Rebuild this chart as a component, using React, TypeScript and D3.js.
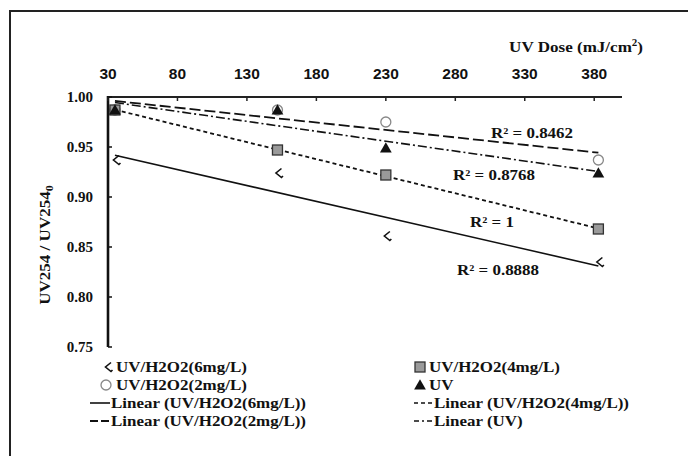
import React from "react";
import * as d3 from "d3";

const doses = [35, 152, 230, 383];
const h6 = [0.937, 0.924, 0.861, 0.835];
const h4 = [0.987, 0.947, 0.922, 0.868];
const h2 = [0.987, 0.987, 0.975, 0.937];
const uv = [0.987, 0.987, 0.949, 0.924];
const xTicks = [30, 80, 130, 180, 230, 280, 330, 380];
const yTicks = [0.75, 0.8, 0.85, 0.9, 0.95, 1.0];
const r2Labels = ["R² = 0.8888", "R² = 1", "R² = 0.8462", "R² = 0.8768"];

const W = 688, H = 456;
const x = d3.scaleLinear().domain([30, 400]).range([108, 622]);
const y = d3.scaleLinear().domain([0.75, 1.0]).range([347, 97]);

function fit(xs: number[], ys: number[]) {
  const mx = d3.mean(xs)!, my = d3.mean(ys)!;
  let sxy = 0, sxx = 0;
  xs.forEach((v, i) => { sxy += (v - mx) * (ys[i] - my); sxx += (v - mx) ** 2; });
  const b = sxy / sxx;
  const a = my - b * mx;
  return (v: number) => a + b * v;
}

const serif = "'Liberation Serif', 'Times New Roman', serif";
const sans = "'Liberation Sans', Arial, sans-serif";

const line = d3.line<[number, number]>().x(d => x(d[0])).y(d => y(d[1]));

function trend(ys: number[]) {
  const f = fit(doses, ys);
  const x0 = doses[0], x1 = doses[doses.length - 1];
  return line([[x0, f(x0)], [x1, f(x1)]]) as string;
}

const chevron = "M4,-4.5 L-1.5,0 L4,4.5 L5.5,3";

function Diamond({ cx, cy }: { cx: number; cy: number }) {
  return <path d={chevron} transform={`translate(${cx},${cy})`} fill="none" stroke="#111" strokeWidth={1.6} />;
}
function Square({ cx, cy }: { cx: number; cy: number }) {
  return <rect x={cx - 5} y={cy - 5} width={10} height={10} fill="#9a9a9a" stroke="#333" strokeWidth={1.3} />;
}
function Circle({ cx, cy }: { cx: number; cy: number }) {
  return <circle cx={cx} cy={cy} r={5} fill="white" stroke="#888" strokeWidth={1.3} />;
}
function Tri({ cx, cy }: { cx: number; cy: number }) {
  const p = d3.symbol(d3.symbolTriangle, 60)() as string;
  return <path d={p} transform={`translate(${cx},${cy + 1})`} fill="#111" />;
}

const styles = {
  h6: { dash: "none", w: 1.6 },
  h4: { dash: "4,3", w: 1.8 },
  h2: { dash: "11,4", w: 1.8 },
  uv: { dash: "9,3,2,3", w: 1.6 },
};

function WideText({ x: tx, y: ty, anchor = "start", children }: { x: number; y: number; anchor?: string; children: React.ReactNode }) {
  return (
    <g transform={`translate(${tx},${ty}) scale(1.13,1)`}>
      <text x={0} y={0} textAnchor={anchor} fontFamily={serif} fontWeight={700} fontSize={15} fill="#111">{children}</text>
    </g>
  );
}

export default function App() {
  const rows = [367, 385, 403, 421];
  return (
    <div style={{ position: "absolute", left: 0, top: 0 }}>
      <svg width={W} height={H} style={{ display: "block", background: "white" }}>
        <rect x={10} y={11} width={700} height={460} fill="none" stroke="#222" strokeWidth={2} />

        {/* trend lines */}
        <path d={trend(h6)} stroke="#111" strokeWidth={styles.h6.w} fill="none" />
        <path d={trend(h4)} stroke="#111" strokeWidth={styles.h4.w} strokeDasharray={styles.h4.dash} fill="none" />
        <path d={trend(h2)} stroke="#111" strokeWidth={styles.h2.w} strokeDasharray={styles.h2.dash} fill="none" />
        <path d={trend(uv)} stroke="#111" strokeWidth={styles.uv.w} strokeDasharray={styles.uv.dash} fill="none" />

        {/* markers */}
        {doses.map((d, i) => <Circle key={"c" + i} cx={x(d)} cy={y(h2[i])} />)}
        {doses.map((d, i) => <Square key={"s" + i} cx={x(d)} cy={y(h4[i])} />)}
        {doses.map((d, i) => <Tri key={"t" + i} cx={x(d)} cy={y(uv[i])} />)}
        {doses.map((d, i) => <Diamond key={"d" + i} cx={x(d)} cy={y(h6[i])} />)}

        {/* axes */}
        <line x1={x(30)} x2={x(400)} y1={y(1)} y2={y(1)} stroke="#222" strokeWidth={2.2} />
        <line x1={x(30)} x2={x(30)} y1={y(1) - 1} y2={y(0.75)} stroke="#111" strokeWidth={2.6} />
        {xTicks.map(t => (
          <g key={"xt" + t}>
            <line x1={x(t)} x2={x(t)} y1={y(1)} y2={y(1) + 4} stroke="#222" strokeWidth={1.5} />
            <text x={x(t)} y={79} textAnchor="middle" fontFamily={sans} fontWeight={700} fontSize={15.5} fill="#111">{t}</text>
          </g>
        ))}
        {yTicks.map(t => (
          <g key={"yt" + t}>
            <line x1={x(30)} x2={x(30) + 4} y1={y(t)} y2={y(t)} stroke="#111" strokeWidth={1.5} />
            <text x={93} y={y(t) + 5} textAnchor="end" fontFamily={serif} fontWeight={700} fontSize={15} fill="#111">{d3.format(".2f")(t)}</text>
          </g>
        ))}
        <g transform="translate(643,52) scale(1.1,1)">
          <text x={0} y={0} textAnchor="end" fontFamily={serif} fontWeight={700} fontSize={15.5} fill="#111">
            UV Dose (mJ/cm<tspan fontSize={10} dy={-6}>2</tspan><tspan dy={6}>)</tspan>
          </text>
        </g>
        <text transform="translate(50,245) rotate(-90) scale(1.1,1)" textAnchor="middle" fontFamily={serif} fontWeight={700} fontSize={15.5} fill="#111">
          UV254 / UV254<tspan fontSize={11} dy={3}>0</tspan>
        </text>

        {/* R2 labels */}
        <WideText x={532} y={138} anchor="middle">{r2Labels[2]}</WideText>
        <WideText x={494} y={180} anchor="middle">{r2Labels[3]}</WideText>
        <WideText x={492} y={227} anchor="middle">{r2Labels[1]}</WideText>
        <WideText x={498} y={275} anchor="middle">{r2Labels[0]}</WideText>

        {/* legend */}
        <Diamond cx={107} cy={rows[0]} />
        <WideText x={116} y={rows[0] + 5}>UV/H2O2(6mg/L)</WideText>
        <Circle cx={106} cy={rows[1]} />
        <WideText x={116} y={rows[1] + 5}>UV/H2O2(2mg/L)</WideText>
        <line x1={90} x2={110} y1={rows[2]} y2={rows[2]} stroke="#111" strokeWidth={1.6} />
        <WideText x={111} y={rows[2] + 5}>Linear (UV/H2O2(6mg/L))</WideText>
        <line x1={90} x2={110} y1={rows[3]} y2={rows[3]} stroke="#111" strokeWidth={1.8} strokeDasharray="8,3" />
        <WideText x={111} y={rows[3] + 5}>Linear (UV/H2O2(2mg/L))</WideText>

        <Square cx={420} cy={rows[0]} />
        <WideText x={429} y={rows[0] + 5}>UV/H2O2(4mg/L)</WideText>
        <Tri cx={420} cy={rows[1]} />
        <WideText x={429} y={rows[1] + 5}>UV</WideText>
        <line x1={414} x2={433} y1={rows[2]} y2={rows[2]} stroke="#111" strokeWidth={1.6} strokeDasharray="4,3" />
        <WideText x={434} y={rows[2] + 5}>Linear (UV/H2O2(4mg/L))</WideText>
        <line x1={414} x2={433} y1={rows[3]} y2={rows[3]} stroke="#111" strokeWidth={1.6} strokeDasharray="5,3,2,3" />
        <WideText x={434} y={rows[3] + 5}>Linear (UV)</WideText>
      </svg>
    </div>
  );
}
